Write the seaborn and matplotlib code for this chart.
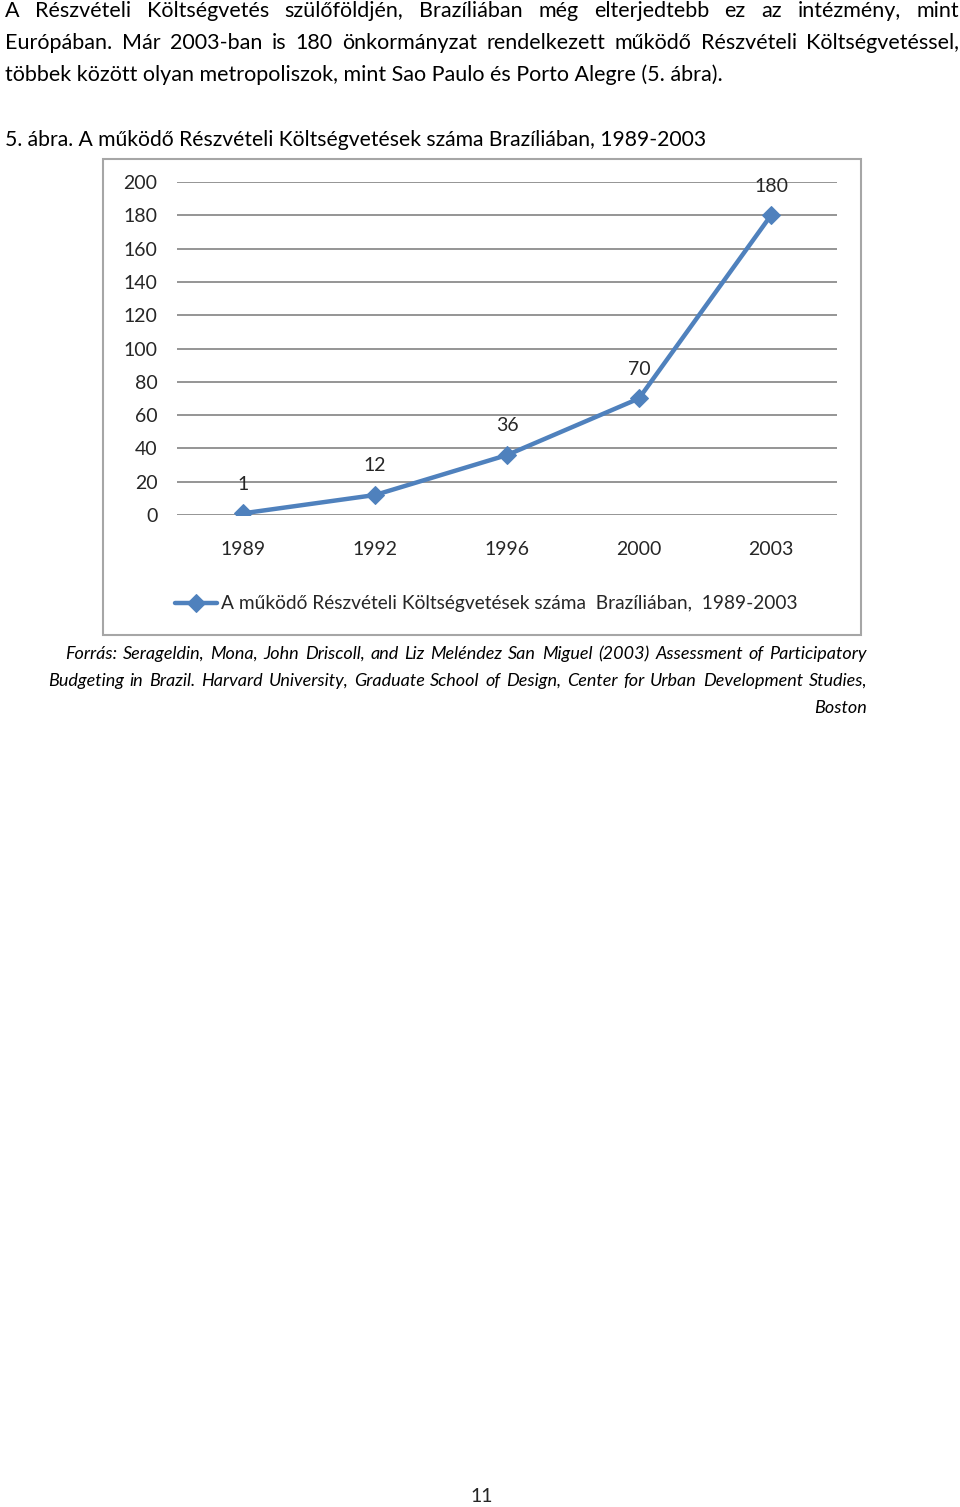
import pandas as pd
import seaborn as sns
import matplotlib.pyplot as plt
from matplotlib.patches import Rectangle

# --- data ---------------------------------------------------------------
years = ['1989', '1992', '1996', '2000', '2003']
counts = [1, 12, 36, 70, 180]
series_name = 'A működő Részvételi Költségvetések száma  Brazíliában,  1989-2003'

para_lines = [
    ('A Részvételi Költségvetés szülőföldjén, Brazíliában még elterjedtebb ez az intézmény, mint', True),
    ('Európában. Már 2003-ban is 180 önkormányzat rendelkezett működő Részvételi Költségvetéssel,', True),
    ('többek között olyan metropoliszok, mint Sao Paulo és Porto Alegre (5. ábra).', False),
]
caption = '5. ábra. A működő Részvételi Költségvetések száma Brazíliában, 1989-2003'
source_lines = [
    ('Forrás: Serageldin, Mona, John Driscoll, and Liz Meléndez San Miguel (2003) Assessment of Participatory', 65, True),
    ('Budgeting in Brazil. Harvard University, Graduate School of Design, Center for Urban Development Studies,', 48, True),
    ('Boston', None, False),
]
page_no = '11'

df = pd.DataFrame({'year': years, 'count': counts})

# --- page ---------------------------------------------------------------
W, H = 960, 1507
sns.set_style('white')
plt.rcParams['font.family'] = ['Lato', 'DejaVu Sans']
fig = plt.figure(figsize=(W / 100, H / 100), dpi=100)
renderer = fig.canvas.get_renderer()
BLUE = '#4F81BD'
CHART_FS = 14


def fx(px):
    return px / W


def fy(py):
    return 1 - py / H


def justified(text, x0, x1, y, **kw):
    words = text.split()
    arts = [fig.text(0, fy(y), w, va='center', ha='left', **kw) for w in words]
    widths = [a.get_window_extent(renderer).width for a in arts]
    gap = (x1 - x0 - sum(widths)) / (len(words) - 1)
    x = x0
    for a, w in zip(arts, widths):
        a.set_x(fx(x))
        x += w + gap


body = dict(fontsize=15.5, color='black')
for i, (line, just) in enumerate(para_lines):
    y = 11 + i * 32
    if just:
        justified(line, 5, 959, y, **body)
    else:
        fig.text(fx(5), fy(y), line, va='center', ha='left', **body)

fig.text(fx(5), fy(140), caption, va='center', ha='left', fontsize=15.25, color='black')

# chart frame
fig.patches.append(Rectangle((fx(103), fy(635)), fx(861) - fx(103), fy(159) - fy(635),
                             transform=fig.transFigure, fill=False,
                             edgecolor='#A6A6A6', linewidth=1.5))

# --- chart --------------------------------------------------------------
ax = fig.add_axes([fx(177), fy(515), fx(837) - fx(177), fy(182) - fy(515)])
sns.lineplot(data=df, x='year', y='count', ax=ax, sort=False, color=BLUE,
             linewidth=3.2, marker='D', markersize=9.5, markeredgecolor=BLUE,
             label=series_name, legend=False)
ax.set_xlim(-0.5, len(years) - 0.5)
ax.set_ylim(0, 200)
ax.set_yticks(range(0, 201, 20))
ax.yaxis.grid(True, color='#8C8C8C', linewidth=1.3)
ax.set_axisbelow(True)
for s in ax.spines.values():
    s.set_visible(False)
ax.tick_params(axis='y', length=0, pad=14, labelsize=CHART_FS)
ax.tick_params(axis='x', length=0, pad=19, labelsize=CHART_FS)
ax.set_xlabel('')
ax.set_ylabel('')

for i, v in enumerate(counts):
    ax.annotate(str(v), (i, v), xytext=(0, 21), textcoords='offset points',
                ha='center', va='center', fontsize=CHART_FS)

handles, labels = ax.get_legend_handles_labels()
fig.legend(handles, labels, loc='center', bbox_to_anchor=(fx(486), fy(604)),
           frameon=False, fontsize=13.8, handlelength=2.2, handletextpad=0.2,
           borderaxespad=0)

# --- source note --------------------------------------------------------
src = dict(fontsize=13, style='italic', color='black')
for i, (line, x0, just) in enumerate(source_lines):
    y = 654 + i * 27
    if just:
        justified(line, x0, 867, y, **src)
    else:
        fig.text(fx(867), fy(y), line, va='center', ha='right', **src)

fig.text(fx(482), fy(1497), page_no, va='center', ha='center', fontsize=14)

fig.savefig('out.png', dpi=100)
